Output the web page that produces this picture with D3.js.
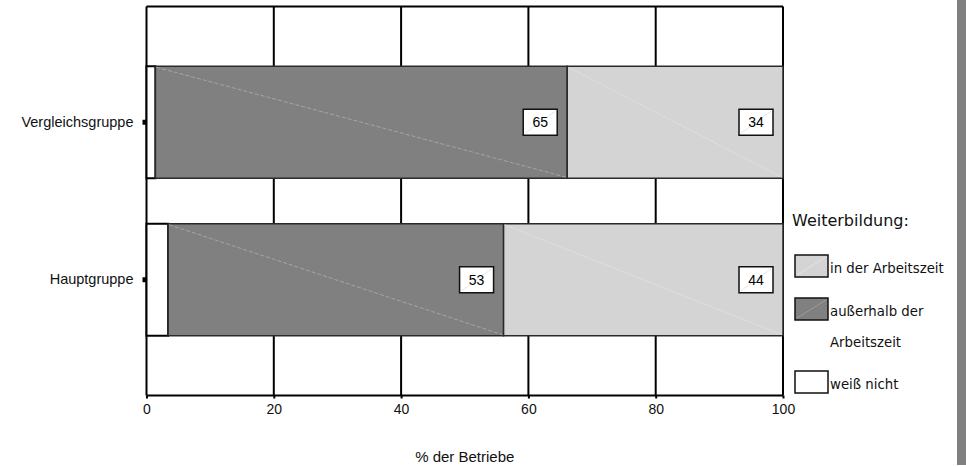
<!DOCTYPE html>
<html>
<head>
<meta charset="utf-8">
<script src="https://cdn.jsdelivr.net/npm/d3@7"></script>
<style>
  body { margin: 0; background: #fff; }
  svg { display: block; }
</style>
</head>
<body>
<div id="Canvas"></div>
<script>
// Daten
const groups = ["Vergleichsgruppe", "Hauptgruppe"]
const weissNicht = [1.4, 3.4]
const ausserhalb = [64.7, 52.7]
const inDerArbeitszeit = [33.9, 43.9]
const xTicks = [0, 20, 40, 60, 80, 100]
const seriesNames = ["in der Arbeitszeit", "außerhalb der Arbeitszeit", "weiß nicht"]
const seriesColors = ["#d4d4d4", "#808080", "#ffffff"]

const W = 966, H = 467
let svg = d3.select("#Canvas")
    .append("svg")
    .attr("width", W)
    .attr("height", H)

let xScale = d3.scaleLinear()
    .domain([0, 100])
    .range([146.5, 783])
let yScale = d3.scaleBand()
    .domain(groups)
    .range([43.5, 358.5])
    .paddingInner(0.289)
    .paddingOuter(0.1445)

const gridTop = 6.5, gridBottom = 395.5

// gitter
svg.append("g")
    .selectAll("line")
    .data(xTicks)
    .enter()
    .append("line")
    .attr("x1", d => xScale(d))
    .attr("x2", d => xScale(d))
    .attr("y1", gridTop)
    .attr("y2", gridBottom)
    .style("stroke", "#000")
    .style("stroke-width", 2)
svg.append("line")
    .attr("x1", xScale(0)).attr("x2", xScale(100))
    .attr("y1", gridTop).attr("y2", gridTop)
    .style("stroke", "#000").style("stroke-width", 2)

// stapel: weiß nicht, außerhalb, in der
let rows = groups.map((g, i) => {
    let a = weissNicht[i], b = ausserhalb[i], c = inDerArbeitszeit[i]
    return {
        group: g,
        segs: [
            { key: "weiß nicht", x0: 0, x1: a, color: seriesColors[2], label: null },
            { key: "außerhalb", x0: a, x1: a + b, color: seriesColors[1], label: Math.round(b) },
            { key: "in der", x0: a + b, x1: a + b + c, color: seriesColors[0], label: Math.round(c) }
        ]
    }
})

let rowG = svg.append("g")
    .selectAll("g")
    .data(rows)
    .enter()
    .append("g")

rowG.each(function (r) {
    let g = d3.select(this)
    let y0 = yScale(r.group), bh = yScale.bandwidth()
    r.segs.forEach(s => {
        let x0 = xScale(s.x0), x1 = Math.min(xScale(s.x1), xScale(100))
        g.append("rect")
            .attr("x", x0)
            .attr("y", y0)
            .attr("width", x1 - x0)
            .attr("height", bh)
            .style("fill", s.color)
            .style("stroke", s.key == "weiß nicht" ? "#000" : "#2a2a2a")
            .style("stroke-width", s.key == "weiß nicht" ? 2 : 1.5)
        if (s.key != "weiß nicht") {
            // feine diagonale wie im original
            g.append("line")
                .attr("x1", x0 + 1).attr("y1", y0 + 1)
                .attr("x2", x1 - 1).attr("y2", y0 + bh - 1)
                .style("stroke", s.key == "außerhalb" ? "#b4b4b4" : "#e2e2e2")
                .style("stroke-width", 0.7)
                .style("stroke-dasharray", s.key == "außerhalb" ? "4,2" : null)
        }
        if (s.label != null) {
            let bw = 34, bhh = 26
            let bx = x1 - 10 - bw, by = y0 + bh / 2 - bhh / 2
            g.append("rect")
                .attr("x", bx).attr("y", by)
                .attr("width", bw).attr("height", bhh)
                .style("fill", "#fff")
                .style("stroke", "#111")
                .style("stroke-width", 1.5)
            g.append("line")
                .attr("x1", bx + 2).attr("y1", by + bhh - 2)
                .attr("x2", bx + bw - 2).attr("y2", by + 2)
                .style("stroke", "#dcdcdc")
                .style("stroke-width", 0.7)
            g.append("text")
                .attr("x", bx + bw / 2)
                .attr("y", by + bhh / 2 + 5)
                .attr("text-anchor", "middle")
                .style("font-family", "Liberation Sans, Arial, sans-serif")
                .style("font-size", "14px")
                .style("fill", "#000")
                .text(s.label)
        }
    })
})

// x-achse
let xAxis = svg.append("g")
    .attr("transform", `translate(0,${gridBottom})`)
    .call(d3.axisBottom(xScale).tickValues(xTicks).tickSize(3).tickPadding(6))
xAxis.select(".domain").style("stroke", "#000").style("stroke-width", 2)
    .attr("d", `M${xScale(0)},0H${xScale(100)}`)
xAxis.selectAll(".tick line").style("stroke-width", 2)
xAxis.selectAll("text")
    .style("font-family", "Liberation Sans, Arial, sans-serif")
    .style("font-size", "14px")
    .style("fill", "#111")

// y-achse
let yAxis = svg.append("g")
    .attr("transform", `translate(${xScale(0)},0)`)
    .call(d3.axisLeft(yScale).tickSize(4).tickPadding(9))
yAxis.select(".domain").remove()
yAxis.selectAll(".tick line").style("stroke-width", 5)
yAxis.selectAll("text")
    .style("font-family", "Liberation Sans, Arial, sans-serif")
    .style("font-size", "14.5px")
    .style("fill", "#111")

// achsentitel
svg.append("text")
    .attr("x", (xScale(0) + xScale(100)) / 2)
    .attr("y", 462)
    .attr("text-anchor", "middle")
    .style("font-family", "Liberation Sans, Arial, sans-serif")
    .style("font-size", "15px")
    .style("fill", "#111")
    .text("% der Betriebe")

// legende
let legend = svg.append("g")
legend.append("text")
    .attr("x", 792).attr("y", 226)
    .style("font-family", "DejaVu Sans, sans-serif")
    .style("font-size", "16px")
    .style("fill", "#111")
    .text("Weiterbildung:")
const legendY = [255, 298, 371]
const legendLines = [["in der Arbeitszeit"], ["außerhalb der", "Arbeitszeit"], ["weiß nicht"]]
seriesNames.forEach((n, i) => {
    let ly = legendY[i]
    legend.append("rect")
        .attr("x", 795).attr("y", ly)
        .attr("width", 33).attr("height", 22)
        .style("fill", seriesColors[i])
        .style("stroke", "#111")
        .style("stroke-width", 1.5)
    if (i < 2) {
        legend.append("line")
            .attr("x1", 797).attr("y1", ly + 20)
            .attr("x2", 826).attr("y2", ly + 2)
            .style("stroke", i == 0 ? "#e8e8e8" : "#a8a8a8")
            .style("stroke-width", 0.7)
    }
    legendLines[i].forEach((t, j) => {
        legend.append("text")
            .attr("x", 830)
            .attr("y", ly + 18 + j * 31)
            .style("font-family", "DejaVu Sans, sans-serif")
            .style("font-size", "13.3px")
            .style("fill", "#111")
            .text(t)
    })
})

// grauer streifen rechts
svg.append("rect")
    .attr("x", 957).attr("y", 0)
    .attr("width", 9).attr("height", 465)
    .style("fill", "#808080")
</script>
</body>
</html>
